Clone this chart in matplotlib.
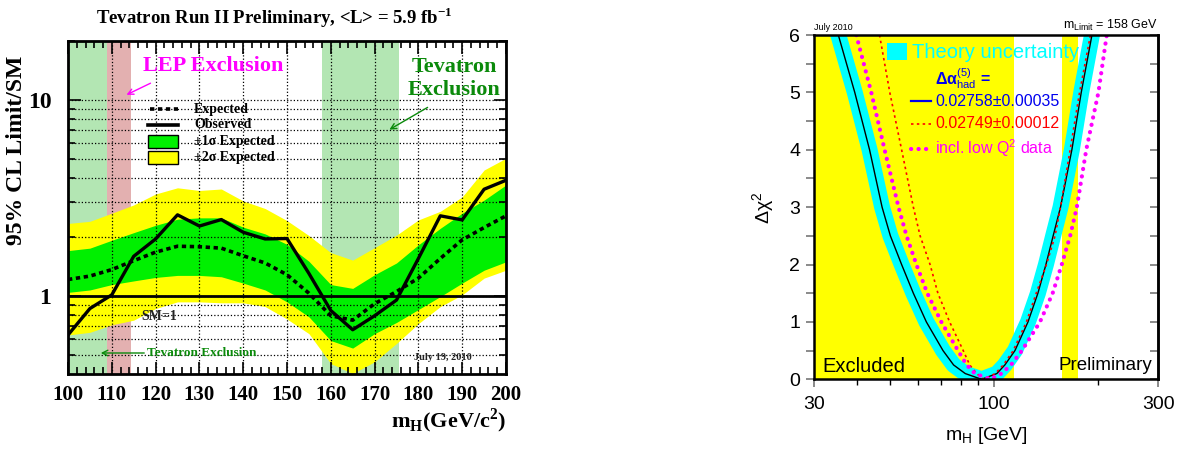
import matplotlib
matplotlib.use("Agg")
import matplotlib.pyplot as plt
from matplotlib.patches import Rectangle
from matplotlib.lines import Line2D
from matplotlib.ticker import NullFormatter

W, H = 1184, 455
SERIF = "Liberation Serif"

# ---- left panel: Tevatron combined limit (ratio to SM) ----
mass = list(range(100, 201, 5))
observed = [0.63, 0.86, 1.01, 1.59, 1.95, 2.59, 2.27, 2.45, 2.11, 1.95, 1.96,
            1.30, 0.84, 0.67, 0.79, 0.95, 1.55, 2.56, 2.44, 3.50, 3.89]
expected = [1.21, 1.26, 1.36, 1.51, 1.67, 1.79, 1.78, 1.75, 1.60, 1.47, 1.28,
            1.03, 0.79, 0.75, 0.91, 1.05, 1.23, 1.55, 1.93, 2.23, 2.56]
sig1_hi = [1.70, 1.75, 1.92, 2.10, 2.29, 2.46, 2.50, 2.50, 2.24, 2.07, 1.83,
           1.50, 1.14, 1.09, 1.28, 1.47, 1.82, 2.21, 2.64, 3.08, 3.68]
sig1_lo = [1.04, 1.07, 1.14, 1.19, 1.24, 1.27, 1.27, 1.25, 1.16, 1.07, 0.93,
           0.78, 0.59, 0.54, 0.64, 0.73, 0.85, 0.99, 1.16, 1.35, 1.49]
sig2_hi = [2.34, 2.40, 2.64, 2.91, 3.31, 3.56, 3.45, 3.51, 3.05, 2.79, 2.42,
           2.03, 1.66, 1.52, 1.76, 2.04, 2.44, 2.70, 3.20, 4.39, 5.04]
sig2_lo = [0.63, 0.65, 0.71, 0.75, 0.86, 0.93, 0.93, 0.92, 0.92, 0.88, 0.76,
           0.64, 0.45, 0.40, 0.46, 0.57, 0.72, 0.88, 1.01, 1.23, 1.35]
tev_excl = [(100, 109), (158, 175.5)]
lep_excl = (109, 114.4)

# ---- right panel: blueband delta chi^2 ----
chi_lvls = [6, 5, 4, 3, 2.5, 2, 1.5, 1, 0.5, 0.25, 0.1, 0,
            0.1, 0.25, 0.5, 1, 1.5, 2, 2.5, 3, 4, 5, 6]
mh_black = [35.3, 39.4, 43.5, 47.3, 50.0, 53.9, 58.3, 63.6, 71.1, 76.3, 82.5, 92.0,
            101.9, 107.5, 115.0, 125.5, 134.1, 141.5, 148.5, 156.0, 168.3, 179.2, 192.5]
mh_red = [46.5, 49.8, 53.9, 58.3, 61.0, 65.2, 68.7, 74.3, 81.4, 85.0, 89.0, 93.5,
          100.8, 106.4, 113.7, 124.2, 132.6, 142.0, 150.4, 156.0, 166.4, 177.2, 190.6]
mh_mag = [39.8, 44.0, 48.1, 52.8, 55.7, 59.5, 64.0, 70.3, 78.6, 83.3, 88.0, 97.5,
          105.0, 112.0, 120.5, 136.0, 148.0, 157.3, 166.4, 174.0, 185.3, 201.0, 212.5]
excl_regions = [(30, 114.4), (158, 175.4)]

plt.rcParams["font.family"] = ["Liberation Sans", "DejaVu Sans"]
plt.rcParams["mathtext.fontset"] = "custom"
plt.rcParams["mathtext.rm"] = "Liberation Sans"
plt.rcParams["mathtext.it"] = "Liberation Sans:italic"
plt.rcParams["mathtext.bf"] = "Liberation Serif:bold"

fig = plt.figure(figsize=(W / 100, H / 100), dpi=100)


def ftext(x, y, s, **kw):
    # text placed in reference pixel coords
    return fig.text(x / W, 1 - y / H, s, **kw)


def arrow(x0, y0, x1, y1, color):
    fig.add_artist(matplotlib.patches.FancyArrowPatch(
        (x0 / W, 1 - y0 / H), (x1 / W, 1 - y1 / H), transform=fig.transFigure,
        arrowstyle="->", mutation_scale=10, color=color, lw=1.0))


# ================= left panel =================
ax = fig.add_axes([68 / W, 1 - 373.6 / H, 438 / W, 332.5 / H])
for a, b in tev_excl:
    ax.axvspan(a, b, color="#b3e6b3", lw=0, zorder=0.3)
ax.axvspan(*lep_excl, color="#e3b0b0", lw=0, zorder=0.3)
ax.fill_between(mass, sig2_lo, sig2_hi, color="#ffff00", lw=0, zorder=1)
ax.fill_between(mass, sig1_lo, sig1_hi, color="#00f000", lw=0, zorder=1.1)
ax.axhline(1, color="k", lw=2, zorder=3)
ax.plot(mass, expected, color="k", lw=2.6, ls=(0, (1.2, 1.0)), zorder=3)
ax.plot(mass, observed, color="k", lw=2.4, zorder=3.1)

ax.set_yscale("log")
ax.set_xlim(100, 200)
ax.set_ylim(0.4, 20)
ax.set_xticks(list(range(100, 201, 10)), labels=[str(v) for v in range(100, 201, 10)],
              fontsize=15, fontweight="bold", family=SERIF)
ax.set_xticks(list(range(100, 201, 2)), minor=True)
ax.set_yticks([1, 10], labels=["1", "10"], fontsize=17, fontweight="bold", family=SERIF)
ax.set_yticks([0.5, 0.6, 0.7, 0.8, 0.9, 2, 3, 4, 5, 6, 7, 8, 9, 20], minor=True)
ax.yaxis.set_minor_formatter(NullFormatter())
ax.set_axisbelow(False)
ax.grid(True, axis="y", which="both", ls=":", color="k", lw=0.9)
ax.grid(True, axis="x", which="major", ls=":", color="k", lw=0.9)
ax.tick_params(which="both", direction="in", top=True, right=True, width=1.2)
ax.tick_params(which="major", length=9)
ax.tick_params(which="minor", length=5)
ax.tick_params(axis="x", pad=8)
ax.tick_params(axis="y", pad=12)
for sp in ax.spines.values():
    sp.set_linewidth(2)
    sp.set_zorder(4)

ftext(274, 18, r"Tevatron Run II Preliminary, <L> = 5.9 fb$^{\mathbf{-1}}$",
      ha="center", va="center", fontsize=13.5, fontweight="bold", family=SERIF)
ftext(17, 150, "95% CL Limit/SM", rotation=90, ha="center", va="center",
      fontsize=17, fontweight="bold", family=SERIF)
ftext(506, 421, r"m$_{\mathbf{H}}$(GeV/c$^{\mathbf{2}}$)", ha="right", va="center",
      fontsize=16, fontweight="bold", family=SERIF)

ftext(143, 66, "LEP Exclusion", ha="left", va="center", fontsize=16,
      fontweight="bold", family=SERIF, color="#ff00ff")
arrow(153, 82, 124, 96, "#ff00ff")
ftext(454, 67, "Tevatron", ha="center", va="center", fontsize=16,
      fontweight="bold", family=SERIF, color="#0b8a0b")
ftext(454, 90, "Exclusion", ha="center", va="center", fontsize=16,
      fontweight="bold", family=SERIF, color="#0b8a0b")
arrow(430, 106, 387, 131, "#0b8a0b")

# legend, drawn by hand like the original
fig.add_artist(Line2D([150 / W, 178 / W], [1 - 109 / H] * 2, color="k", lw=2.6,
                      ls=(0, (1.2, 1.0)), transform=fig.transFigure))
fig.add_artist(Line2D([148 / W, 178 / W], [1 - 125 / H] * 2, color="k", lw=2.6,
                      transform=fig.transFigure))
fig.add_artist(Rectangle((148 / W, 1 - 148 / H), 30 / W, 13 / H, fc="#00f000",
                         ec="k", lw=1, transform=fig.transFigure))
fig.add_artist(Rectangle((148 / W, 1 - 164 / H), 30 / W, 13 / H, fc="#ffff00",
                         ec="k", lw=1, transform=fig.transFigure))
leg_labels = ["Expected", "Observed", "±1σ Expected", "±2σ Expected"]
for lab, yy in zip(leg_labels, [109, 125, 142, 158]):
    ftext(194, yy, lab, ha="left", va="center", fontsize=10, fontweight="bold",
          family=SERIF)

ftext(159, 317, "SM=1", ha="center", va="center", fontsize=10,
      fontweight="bold", family=SERIF, color="#222222")
ftext(147, 353, "Tevatron Exclusion", ha="left", va="center", fontsize=9.5,
      fontweight="bold", family=SERIF, color="#0b8a0b")
arrow(147, 353, 98, 353, "#0b8a0b")
ftext(443, 358, "July 19, 2010", ha="center", va="center", fontsize=7.5,
      fontweight="bold", family=SERIF, color="#222222")

# ================= right panel =================
ax2 = fig.add_axes([814 / W, 1 - 379.3 / H, 344.3 / W, 344.3 / H])
for a, b in excl_regions:
    ax2.axvspan(a, b, color="#ffff00", lw=0, zorder=0.2)
ax2.plot(mh_black, chi_lvls, color="#00ffff", lw=11.5,
         solid_capstyle="projecting", solid_joinstyle="round", zorder=1)
ax2.plot(mh_black, chi_lvls, color="k", lw=1.0, zorder=2)
ax2.plot(mh_red, chi_lvls, color="#ff0000", lw=1.2, ls=(0, (1.5, 2.0)), zorder=2.1)
ax2.plot(mh_mag, chi_lvls, color="#ff00ff", lw=3.0, ls=(0, (0.05, 1.75)),
         dash_capstyle="round", zorder=2.2)

ax2.set_xscale("log")
ax2.set_xlim(30, 300)
ax2.set_ylim(0, 6)
ax2.set_xticks([30, 100, 300], labels=["30", "100", "300"], fontsize=14)
ax2.set_xticks([40, 50, 60, 70, 80, 90, 200], minor=True)
ax2.xaxis.set_minor_formatter(NullFormatter())
ax2.set_yticks(range(0, 7), labels=[str(v) for v in range(0, 7)], fontsize=14)
ax2.set_yticks([0.5, 1.5, 2.5, 3.5, 4.5, 5.5], minor=True)
ax2.tick_params(axis="x", which="major", direction="out", length=6, width=1.2,
                color="#777777", pad=6)
ax2.tick_params(axis="x", which="minor", direction="out", length=4, width=1.0,
                color="k")
ax2.tick_params(axis="y", which="both", direction="out", length=6, width=1.2,
                color="#777777", pad=4)
sec = ax2.secondary_yaxis("right")
sec.set_yticks(range(0, 7))
sec.set_yticks([0.5, 1.5, 2.5, 3.5, 4.5, 5.5], minor=True)
sec.tick_params(which="both", direction="in", length=6, width=1.2,
                color="#777777", labelright=False)
sec.spines["right"].set_linewidth(1.8)
for sp in ax2.spines.values():
    sp.set_linewidth(1.8)
    sp.set_zorder(4)

ftext(763, 208, r"Δχ$^{2}$", rotation=90, ha="center", va="center", fontsize=14)
ftext(986, 436, r"m$_{\mathrm{H}}$ [GeV]", ha="center", va="center", fontsize=14)
ftext(814, 28, "July 2010", ha="left", va="center", fontsize=6.5)
ftext(1158, 25, r"m$_{\mathrm{Limit}}$ = 158 GeV", ha="right", va="center", fontsize=9)

fig.add_artist(Rectangle((887 / W, 1 - 60 / H), 20 / W, 17 / H, fc="#00ffff",
                         ec="none", transform=fig.transFigure))
ftext(912, 52, "Theory uncertainty", ha="left", va="center", fontsize=14.5,
      color="#00ffff")
ftext(935, 79, r"Δα$_{\mathrm{had}}^{\mathrm{(5)}}$ =", ha="left", va="center",
      fontsize=11.5, fontweight="bold", color="#0000ee")
fig.add_artist(Line2D([911 / W, 931 / W], [1 - 101 / H] * 2, color="#0000ee", lw=1.6,
                      transform=fig.transFigure))
fig.add_artist(Line2D([911 / W, 931 / W], [1 - 124 / H] * 2, color="#ff0000", lw=1.2,
                      ls=(0, (1.5, 2.0)), transform=fig.transFigure))
fig.add_artist(Line2D([911 / W, 931 / W], [1 - 149 / H] * 2, color="#ff00ff", lw=3.0,
                      ls=(0, (0.05, 1.75)), dash_capstyle="round",
                      transform=fig.transFigure))
ftext(935, 101, "0.02758±0.00035", ha="left", va="center", fontsize=11.5,
      color="#0000ee")
ftext(935, 124, "0.02749±0.00012", ha="left", va="center", fontsize=11.5,
      color="#ff0000")
ftext(935, 148, r"incl. low Q$^{\mathrm{2}}$ data", ha="left", va="center",
      fontsize=11.5, color="#ff00ff")
ftext(822, 366, "Excluded", ha="left", va="center", fontsize=14.5)
ftext(1152, 366, "Preliminary", ha="right", va="center", fontsize=13.5)

fig.savefig("out.png", dpi=100)
